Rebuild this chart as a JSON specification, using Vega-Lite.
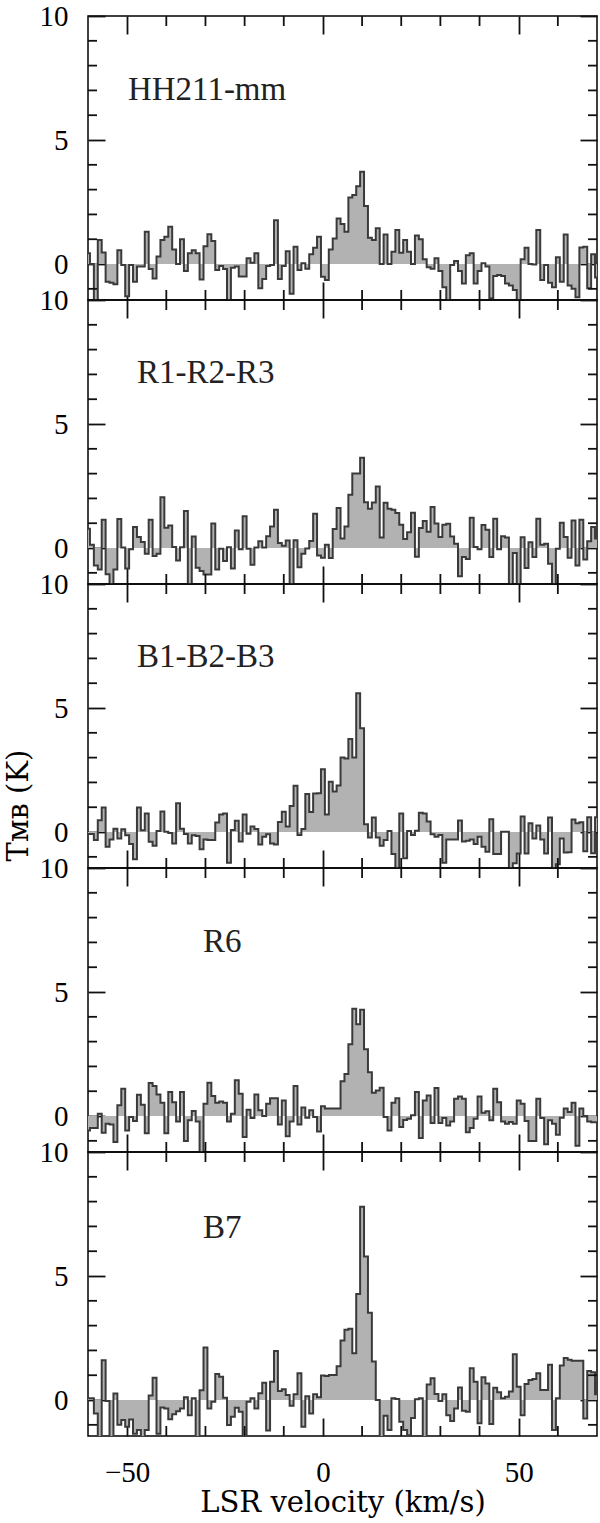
{
  "$schema": "https://vega.github.io/schema/vega-lite/v6.json",
  "background": "white",
  "padding": {"left": 3, "top": 1, "right": 2, "bottom": 7},
  "spacing": 0,
  "bounds": "flush",
  "config": {
    "view": {"stroke": "black", "strokeWidth": 1.5},
    "rule": {"color": "#111111", "strokeWidth": 1.8},
    "axis": {"domain": false, "grid": false, "ticks": true, "tickColor": "#111111", "tickWidth": 1.8, "labelFont": "Liberation Serif", "labelFontSize": 29, "labelColor": "black", "titleFont": "DejaVu Serif", "titleFontWeight": "normal", "titleFontSize": 29, "titleColor": "black", "labelOverlap": false, "labelFlush": false}
  },
  "datasets": {
    "ymaj": [{"t":0},{"t":5},{"t":10}],
    "ymin": [{"t":-1},{"t":1},{"t":2},{"t":3},{"t":4},{"t":6},{"t":7},{"t":8},{"t":9}],
    "xmaj": [{"t":-50},{"t":0},{"t":50}],
    "xmin": [{"t":-40},{"t":-30},{"t":-20},{"t":-10},{"t":10},{"t":20},{"t":30},{"t":40},{"t":60}],
    "hh": [{"v":-60,"T":0.43},{"v":-59,"T":0.0},{"v":-58,"T":-1.6},{"v":-57,"T":0.97},{"v":-56,"T":0.47},{"v":-55,"T":-0.71},{"v":-54,"T":-0.75},{"v":-53,"T":-0.82},{"v":-52,"T":0.56},{"v":-51,"T":-0.04},
      {"v":-50,"T":-1.3},{"v":-49,"T":-0.04},{"v":-48,"T":-0.71},{"v":-47,"T":-0.1},{"v":-46,"T":-0.1},{"v":-45,"T":1.3},{"v":-44,"T":-0.2},{"v":-43,"T":-0.58},{"v":-42,"T":0.3},{"v":-41,"T":0.97},
      {"v":-40,"T":1.1},{"v":-39,"T":1.5},{"v":-38,"T":0.59},{"v":-37,"T":0.0},{"v":-36,"T":1.0},{"v":-35,"T":-0.28},{"v":-34,"T":0.43},{"v":-33,"T":0.56},{"v":-32,"T":0.43},{"v":-31,"T":-0.62},
      {"v":-30,"T":0.72},{"v":-29,"T":1.2},{"v":-28,"T":0.93},{"v":-27,"T":-0.24},{"v":-26,"T":-0.08},{"v":-25,"T":-0.2},{"v":-24,"T":-1.6},{"v":-23,"T":-0.15},{"v":-22,"T":-0.1},{"v":-21,"T":-0.5},
      {"v":-20,"T":-0.5},{"v":-19,"T":0.23},{"v":-18,"T":0.05},{"v":-17,"T":0.43},{"v":-16,"T":-0.98},{"v":-15,"T":-0.6},{"v":-14,"T":-0.08},{"v":-13,"T":-0.04},{"v":-12,"T":1.77},{"v":-11,"T":-0.6},
      {"v":-10,"T":-0.08},{"v":-9,"T":0.52},{"v":-8,"T":-1.2},{"v":-7,"T":0.7},{"v":-6,"T":-0.24},{"v":-5,"T":0.03},{"v":-4,"T":-0.19},{"v":-3,"T":0.39},{"v":-2,"T":0.66},{"v":-1,"T":1.1},
      {"v":0,"T":-0.51},{"v":1,"T":-0.64},{"v":2,"T":0.59},{"v":3,"T":1.03},{"v":4,"T":1.84},{"v":5,"T":1.61},{"v":6,"T":1.3},{"v":7,"T":2.68},{"v":8,"T":2.78},{"v":9,"T":3.14},
      {"v":10,"T":3.72},{"v":11,"T":2.34},{"v":12,"T":1.06},{"v":13,"T":0.97},{"v":14,"T":1.44},{"v":15,"T":0.0},{"v":16,"T":1.19},{"v":17,"T":0.0},{"v":18,"T":0.5},{"v":19,"T":1.37},
      {"v":20,"T":0.46},{"v":21,"T":0.97},{"v":22,"T":0.5},{"v":23,"T":0.0},{"v":24,"T":1.15},{"v":25,"T":1.0},{"v":26,"T":0.19},{"v":27,"T":-0.13},{"v":28,"T":-0.19},{"v":29,"T":0.23},
      {"v":30,"T":-0.28},{"v":31,"T":-0.94},{"v":32,"T":-1.6},{"v":33,"T":-0.04},{"v":34,"T":0.12},{"v":35,"T":-0.28},{"v":36,"T":-0.78},{"v":37,"T":0.35},{"v":38,"T":0.43},{"v":39,"T":-0.78},
      {"v":40,"T":-0.28},{"v":41,"T":0.03},{"v":42,"T":-0.1},{"v":43,"T":-1.38},{"v":44,"T":-0.48},{"v":45,"T":-0.44},{"v":46,"T":-0.48},{"v":47,"T":-0.78},{"v":48,"T":-0.87},{"v":49,"T":-1.05},
      {"v":50,"T":-1.6},{"v":51,"T":0.19},{"v":52,"T":0.66},{"v":53,"T":0.0},{"v":54,"T":-0.02},{"v":55,"T":1.37},{"v":56,"T":-0.64},{"v":57,"T":-0.04},{"v":58,"T":-0.75},{"v":59,"T":-0.94},
      {"v":60,"T":0.27},{"v":61,"T":-0.71},{"v":62,"T":1.19},{"v":63,"T":-0.87},{"v":64,"T":-1.0},{"v":65,"T":-1.34},{"v":66,"T":0.67},{"v":67,"T":0.7},{"v":68,"T":-0.98},{"v":69,"T":0.39},{"v":70,"T":-0.54}],
    "r": [{"v":-60,"T":0.78},{"v":-59,"T":0.13},{"v":-58,"T":-0.7},{"v":-57,"T":-0.87},{"v":-56,"T":1.14},{"v":-55,"T":-1.06},{"v":-54,"T":-1.6},{"v":-53,"T":-0.87},{"v":-52,"T":1.17},{"v":-51,"T":0.02},
      {"v":-50,"T":-0.83},{"v":-49,"T":-0.05},{"v":-48,"T":0.85},{"v":-47,"T":0.44},{"v":-46,"T":0.24},{"v":-45,"T":-0.23},{"v":-44,"T":1.14},{"v":-43,"T":-0.32},{"v":-42,"T":-0.23},{"v":-41,"T":2.05},
      {"v":-40,"T":0.82},{"v":-39,"T":0.91},{"v":-38,"T":0.04},{"v":-37,"T":-0.5},{"v":-36,"T":0.03},{"v":-35,"T":1.49},{"v":-34,"T":-1.6},{"v":-33,"T":0.47},{"v":-32,"T":-0.79},{"v":-31,"T":-0.93},
      {"v":-30,"T":-1.07},{"v":-29,"T":-1.07},{"v":-28,"T":0.99},{"v":-27,"T":-0.87},{"v":-26,"T":-0.03},{"v":-25,"T":-0.52},{"v":-24,"T":0.03},{"v":-23,"T":-0.83},{"v":-22,"T":0.71},{"v":-21,"T":-0.05},
      {"v":-20,"T":1.28},{"v":-19,"T":-0.03},{"v":-18,"T":-0.67},{"v":-17,"T":0.02},{"v":-16,"T":0.27},{"v":-15,"T":0.02},{"v":-14,"T":0.48},{"v":-13,"T":0.87},{"v":-12,"T":1.54},{"v":-11,"T":0.2},
      {"v":-10,"T":0.09},{"v":-9,"T":0.3},{"v":-8,"T":-1.6},{"v":-7,"T":0.31},{"v":-6,"T":-0.77},{"v":-5,"T":-0.23},{"v":-4,"T":-0.02},{"v":-3,"T":0.28},{"v":-2,"T":1.38},{"v":-1,"T":-0.3},
      {"v":0,"T":-0.39},{"v":1,"T":0.13},{"v":2,"T":-0.4},{"v":3,"T":0.77},{"v":4,"T":1.61},{"v":5,"T":0.38},{"v":6,"T":0.87},{"v":7,"T":2.15},{"v":8,"T":3.0},{"v":9,"T":3.0},
      {"v":10,"T":3.64},{"v":11,"T":1.85},{"v":12,"T":1.58},{"v":13,"T":1.84},{"v":14,"T":2.48},{"v":15,"T":0.42},{"v":16,"T":1.83},{"v":17,"T":1.58},{"v":18,"T":1.54},{"v":19,"T":1.41},
      {"v":20,"T":0.94},{"v":21,"T":0.36},{"v":22,"T":0.64},{"v":23,"T":1.42},{"v":24,"T":-0.35},{"v":25,"T":0.81},{"v":26,"T":1.09},{"v":27,"T":0.66},{"v":28,"T":1.65},{"v":29,"T":0.99},
      {"v":30,"T":0.44},{"v":31,"T":0.94},{"v":32,"T":0.98},{"v":33,"T":0.47},{"v":34,"T":0.17},{"v":35,"T":-1.14},{"v":36,"T":-0.36},{"v":37,"T":-0.44},{"v":38,"T":1.22},{"v":39,"T":0.04},
      {"v":40,"T":-0.05},{"v":41,"T":0.93},{"v":42,"T":0.74},{"v":43,"T":-0.36},{"v":44,"T":1.18},{"v":45,"T":-0.05},{"v":46,"T":0.48},{"v":47,"T":0.42},{"v":48,"T":-1.6},{"v":49,"T":-0.2},
      {"v":50,"T":-1.6},{"v":51,"T":0.43},{"v":52,"T":-0.8},{"v":53,"T":0.23},{"v":54,"T":-0.36},{"v":55,"T":1.18},{"v":56,"T":0.13},{"v":57,"T":0.17},{"v":58,"T":-0.63},{"v":59,"T":-1.6},
      {"v":60,"T":-0.03},{"v":61,"T":1.02},{"v":62,"T":0.44},{"v":63,"T":-0.39},{"v":64,"T":1.11},{"v":65,"T":-0.7},{"v":66,"T":1.14},{"v":67,"T":-0.46},{"v":68,"T":0.27},{"v":69,"T":0.85},{"v":70,"T":0.38}],
    "b": [{"v":-60,"T":-0.08},{"v":-59,"T":-0.08},{"v":-58,"T":-0.32},{"v":-57,"T":0.48},{"v":-56,"T":0.99},{"v":-55,"T":-0.59},{"v":-54,"T":-0.3},{"v":-53,"T":0.13},{"v":-52,"T":-0.26},{"v":-51,"T":0.11},
      {"v":-50,"T":-0.13},{"v":-49,"T":-0.48},{"v":-48,"T":-1.1},{"v":-47,"T":0.99},{"v":-46,"T":0.07},{"v":-45,"T":0.75},{"v":-44,"T":-0.39},{"v":-43,"T":-0.55},{"v":-42,"T":0.04},{"v":-41,"T":0.83},
      {"v":-40,"T":0.01},{"v":-39,"T":-0.04},{"v":-38,"T":-0.46},{"v":-37,"T":1.16},{"v":-36,"T":0.13},{"v":-35,"T":-0.08},{"v":-34,"T":-0.46},{"v":-33,"T":-0.13},{"v":-32,"T":-0.16},{"v":-31,"T":-0.69},
      {"v":-30,"T":-0.3},{"v":-29,"T":-0.32},{"v":-28,"T":-0.32},{"v":-27,"T":0.38},{"v":-26,"T":0.71},{"v":-25,"T":0.75},{"v":-24,"T":-1.24},{"v":-23,"T":0.08},{"v":-22,"T":0.46},{"v":-21,"T":-0.38},
      {"v":-20,"T":0.71},{"v":-19,"T":-0.07},{"v":-18,"T":0.22},{"v":-17,"T":0.12},{"v":-16,"T":-0.5},{"v":-15,"T":-0.19},{"v":-14,"T":-0.09},{"v":-13,"T":-0.46},{"v":-12,"T":-0.5},{"v":-11,"T":0.4},
      {"v":-10,"T":0.82},{"v":-9,"T":0.22},{"v":-8,"T":1.05},{"v":-7,"T":1.87},{"v":-6,"T":-0.12},{"v":-5,"T":0.12},{"v":-4,"T":1.53},{"v":-3,"T":0.81},{"v":-2,"T":1.55},{"v":-1,"T":1.56},
      {"v":0,"T":2.53},{"v":1,"T":0.71},{"v":2,"T":2.03},{"v":3,"T":1.63},{"v":4,"T":1.88},{"v":5,"T":3.0},{"v":6,"T":2.96},{"v":7,"T":3.75},{"v":8,"T":3.01},{"v":9,"T":5.6},
      {"v":10,"T":4.18},{"v":11,"T":0.31},{"v":12,"T":-0.22},{"v":13,"T":0.59},{"v":14,"T":-0.22},{"v":15,"T":-0.55},{"v":16,"T":-0.32},{"v":17,"T":0.04},{"v":18,"T":-0.89},{"v":19,"T":-1.6},
      {"v":20,"T":0.75},{"v":21,"T":-1.06},{"v":22,"T":0.04},{"v":23,"T":-0.12},{"v":24,"T":0.05},{"v":25,"T":0.78},{"v":26,"T":0.75},{"v":27,"T":0.42},{"v":28,"T":-0.09},{"v":29,"T":-0.19},
      {"v":30,"T":-0.12},{"v":31,"T":-1.24},{"v":32,"T":-0.3},{"v":33,"T":-0.3},{"v":34,"T":-0.3},{"v":35,"T":0.47},{"v":36,"T":-0.38},{"v":37,"T":-0.35},{"v":38,"T":-0.3},{"v":39,"T":-0.48},
      {"v":40,"T":-0.19},{"v":41,"T":-0.59},{"v":42,"T":-0.79},{"v":43,"T":0.52},{"v":44,"T":-0.89},{"v":45,"T":-0.89},{"v":46,"T":0.01},{"v":47,"T":0.01},{"v":48,"T":-1.6},{"v":49,"T":-1.26},
      {"v":50,"T":-0.87},{"v":51,"T":0.63},{"v":52,"T":-0.87},{"v":53,"T":0.35},{"v":54,"T":-0.26},{"v":55,"T":0.26},{"v":56,"T":-0.3},{"v":57,"T":-0.87},{"v":58,"T":0.59},{"v":59,"T":-1.6},
      {"v":60,"T":-1.3},{"v":61,"T":-0.26},{"v":62,"T":-0.83},{"v":63,"T":-0.81},{"v":64,"T":0.51},{"v":65,"T":0.35},{"v":66,"T":0.39},{"v":67,"T":-0.77},{"v":68,"T":0.6},{"v":69,"T":-0.86},{"v":70,"T":0.6}],
    "r6": [{"v":-60,"T":-0.58},{"v":-59,"T":-0.48},{"v":-58,"T":-0.48},{"v":-57,"T":0.09},{"v":-56,"T":-0.67},{"v":-55,"T":-0.31},{"v":-54,"T":-0.34},{"v":-53,"T":-1.05},{"v":-52,"T":0.43},{"v":-51,"T":1.1},
      {"v":-50,"T":-0.58},{"v":-49,"T":-0.04},{"v":-48,"T":-0.2},{"v":-47,"T":0.86},{"v":-46,"T":0.46},{"v":-45,"T":-0.69},{"v":-44,"T":1.33},{"v":-43,"T":1.21},{"v":-42,"T":0.87},{"v":-41,"T":0.54},
      {"v":-40,"T":-0.69},{"v":-39,"T":0.97},{"v":-38,"T":0.56},{"v":-37,"T":-0.22},{"v":-36,"T":0.97},{"v":-35,"T":-1.01},{"v":-34,"T":-0.17},{"v":-33,"T":0.2},{"v":-32,"T":-0.22},{"v":-31,"T":-1.6},
      {"v":-30,"T":0.5},{"v":-29,"T":1.34},{"v":-28,"T":0.81},{"v":-27,"T":0.54},{"v":-26,"T":0.59},{"v":-25,"T":0.54},{"v":-24,"T":-0.22},{"v":-23,"T":0.09},{"v":-22,"T":1.44},{"v":-21,"T":0.9},
      {"v":-20,"T":-0.85},{"v":-19,"T":0.25},{"v":-18,"T":-0.08},{"v":-17,"T":0.87},{"v":-16,"T":0.23},{"v":-15,"T":0.0},{"v":-14,"T":0.5},{"v":-13,"T":0.72},{"v":-12,"T":0.72},{"v":-11,"T":-0.34},
      {"v":-10,"T":0.63},{"v":-9,"T":-0.81},{"v":-8,"T":-0.22},{"v":-7,"T":1.21},{"v":-6,"T":-0.34},{"v":-5,"T":0.34},{"v":-4,"T":-0.07},{"v":-3,"T":0.23},{"v":-2,"T":-0.04},{"v":-1,"T":-0.62},
      {"v":0,"T":0.39},{"v":1,"T":0.3},{"v":2,"T":0.3},{"v":3,"T":0.3},{"v":4,"T":0.3},{"v":5,"T":1.4},{"v":6,"T":1.69},{"v":7,"T":2.89},{"v":8,"T":4.33},{"v":9,"T":3.7},
      {"v":10,"T":4.29},{"v":11,"T":2.69},{"v":12,"T":1.77},{"v":13,"T":0.94},{"v":14,"T":1.03},{"v":15,"T":1.14},{"v":16,"T":-0.04},{"v":17,"T":-0.58},{"v":18,"T":0.54},{"v":19,"T":0.72},
      {"v":20,"T":-0.44},{"v":21,"T":-0.16},{"v":22,"T":-0.11},{"v":23,"T":0.03},{"v":24,"T":0.97},{"v":25,"T":-0.89},{"v":26,"T":0.63},{"v":27,"T":0.83},{"v":28,"T":-0.28},{"v":29,"T":1.13},
      {"v":30,"T":-0.28},{"v":31,"T":-0.08},{"v":32,"T":-0.38},{"v":33,"T":-0.22},{"v":34,"T":0.7},{"v":35,"T":0.79},{"v":36,"T":0.7},{"v":37,"T":-0.65},{"v":38,"T":-0.48},{"v":39,"T":-0.11},
      {"v":40,"T":0.79},{"v":41,"T":0.13},{"v":42,"T":0.19},{"v":43,"T":-0.17},{"v":44,"T":1.1},{"v":45,"T":0.56},{"v":46,"T":-0.22},{"v":47,"T":-0.31},{"v":48,"T":-0.24},{"v":49,"T":-0.31},
      {"v":50,"T":0.63},{"v":51,"T":0.5},{"v":52,"T":-0.2},{"v":53,"T":-1.01},{"v":54,"T":-1.01},{"v":55,"T":0.7},{"v":56,"T":-0.08},{"v":57,"T":-1.14},{"v":58,"T":-0.17},{"v":59,"T":-0.31},
      {"v":60,"T":-0.75},{"v":61,"T":-0.07},{"v":62,"T":0.3},{"v":63,"T":0.16},{"v":64,"T":0.54},{"v":65,"T":-1.2},{"v":66,"T":0.3},{"v":67,"T":0.0},{"v":68,"T":-0.22},{"v":69,"T":-0.25},{"v":70,"T":-0.25}],
    "b7": [{"v":-60,"T":0.07},{"v":-59,"T":0.07},{"v":-58,"T":-0.54},{"v":-57,"T":-1.6},{"v":-56,"T":1.6},{"v":-55,"T":-0.04},{"v":-54,"T":-1.6},{"v":-53,"T":0.26},{"v":-52,"T":-1.0},{"v":-51,"T":-0.8},
      {"v":-50,"T":-1.08},{"v":-49,"T":-0.78},{"v":-48,"T":-1.36},{"v":-47,"T":-1.21},{"v":-46,"T":-1.6},{"v":-45,"T":-1.21},{"v":-44,"T":0.18},{"v":-43,"T":0.9},{"v":-42,"T":-1.36},{"v":-41,"T":-0.3},
      {"v":-40,"T":-0.34},{"v":-39,"T":-0.77},{"v":-38,"T":-0.57},{"v":-37,"T":-0.45},{"v":-36,"T":-0.34},{"v":-35,"T":0.11},{"v":-34,"T":-0.61},{"v":-33,"T":0.07},{"v":-32,"T":-1.6},{"v":-31,"T":0.39},
      {"v":-30,"T":2.12},{"v":-29,"T":-0.34},{"v":-28,"T":-0.07},{"v":-27,"T":1.05},{"v":-26,"T":0.94},{"v":-25,"T":0.09},{"v":-24,"T":-1.01},{"v":-23,"T":-0.67},{"v":-22,"T":-0.31},{"v":-21,"T":-0.47},
      {"v":-20,"T":-1.6},{"v":-19,"T":-0.07},{"v":-18,"T":0.07},{"v":-17,"T":-0.34},{"v":-16,"T":0.27},{"v":-15,"T":0.7},{"v":-14,"T":-1.23},{"v":-13,"T":0.74},{"v":-12,"T":1.98},{"v":-11,"T":0.36},
      {"v":-10,"T":0.43},{"v":-9,"T":0.2},{"v":-8,"T":-0.23},{"v":-7,"T":0.23},{"v":-6,"T":1.08},{"v":-5,"T":-1.08},{"v":-4,"T":0.15},{"v":-3,"T":-0.54},{"v":-2,"T":0.23},{"v":-1,"T":0.11},
      {"v":0,"T":0.99},{"v":1,"T":0.97},{"v":2,"T":1.01},{"v":3,"T":1.01},{"v":4,"T":1.36},{"v":5,"T":2.4},{"v":6,"T":2.83},{"v":7,"T":2.87},{"v":8,"T":1.89},{"v":9,"T":4.28},
      {"v":10,"T":7.79},{"v":11,"T":5.79},{"v":12,"T":3.52},{"v":13,"T":1.55},{"v":14,"T":0.0},{"v":15,"T":-1.6},{"v":16,"T":-0.63},{"v":17,"T":-1.21},{"v":18,"T":0.07},{"v":19,"T":0.04},
      {"v":20,"T":-0.88},{"v":21,"T":-1.21},{"v":22,"T":-1.42},{"v":23,"T":-0.72},{"v":24,"T":0.03},{"v":25,"T":0.07},{"v":26,"T":-1.6},{"v":27,"T":0.63},{"v":28,"T":0.88},{"v":29,"T":0.24},
      {"v":30,"T":-0.04},{"v":31,"T":0.23},{"v":32,"T":-0.61},{"v":33,"T":-0.85},{"v":34,"T":-0.34},{"v":35,"T":0.51},{"v":36,"T":-0.43},{"v":37,"T":-0.47},{"v":38,"T":1.28},{"v":39,"T":0.74},
      {"v":40,"T":-0.94},{"v":41,"T":0.92},{"v":42,"T":0.67},{"v":43,"T":-0.97},{"v":44,"T":0.5},{"v":45,"T":0.31},{"v":46,"T":0.07},{"v":47,"T":0.13},{"v":48,"T":0.34},{"v":49,"T":1.85},
      {"v":50,"T":0.54},{"v":51,"T":-0.61},{"v":52,"T":0.65},{"v":53,"T":0.81},{"v":54,"T":0.85},{"v":55,"T":1.08},{"v":56,"T":0.4},{"v":57,"T":0.4},{"v":58,"T":1.42},{"v":59,"T":-1.21},
      {"v":60,"T":0.07},{"v":61,"T":1.39},{"v":62,"T":1.69},{"v":63,"T":1.62},{"v":64,"T":1.58},{"v":65,"T":1.58},{"v":66,"T":1.58},{"v":67,"T":-0.74},{"v":68,"T":1.17},{"v":69,"T":1.12},{"v":70,"T":0.23}]
  },
  "vconcat": [
    {
      "width": 509, "height": 284,
      "layer": [
        {"data": {"name": "hh"}, "mark": {"type": "area", "interpolate": "step", "color": "#b2b2b2", "clip": true},
         "encoding": {
           "x": {"field": "v", "type": "quantitative", "scale": {"domain": [-60, 70], "nice": false, "zero": false}, "axis": {"orient": "bottom", "values": [-50, 0, 50], "offset": -18, "tickSize": 18, "labels": false, "title": null}},
           "y": {"field": "T", "type": "quantitative", "scale": {"domain": [-1.45, 10], "nice": false, "zero": false}, "axis": {"orient": "left", "values": [0, 5, 10], "offset": -17, "tickSize": 17, "labelPadding": 20, "title": null}},
           "y2": {"datum": 0}}},
        {"data": {"name": "hh"}, "mark": {"type": "line", "interpolate": "step", "color": "#3a3a3a", "strokeWidth": 2, "clip": true},
         "encoding": {
           "x": {"field": "v", "type": "quantitative", "axis": {"orient": "top", "values": [-50, 0, 50], "offset": -18, "tickSize": 18, "labels": false, "title": null}},
           "y": {"field": "T", "type": "quantitative", "axis": {"orient": "right", "values": [0, 5, 10], "offset": -17, "tickSize": 17, "labels": false, "title": null}}}},
        {"data": {"name": "ymin"}, "mark": "rule", "encoding": {"x": {"datum": -60, "axis": null}, "x2": {"datum": -57.7}, "y": {"field": "t", "type": "quantitative", "axis": null}}},
        {"data": {"name": "ymin"}, "mark": "rule", "encoding": {"x": {"datum": 70, "axis": null}, "x2": {"datum": 67.7}, "y": {"field": "t", "type": "quantitative", "axis": null}}},
        {"data": {"name": "xmin"}, "mark": "rule", "encoding": {"x": {"field": "t", "type": "quantitative", "axis": null}, "y": {"datum": -1.45, "axis": null}, "y2": {"datum": -1.047}}},
        {"data": {"name": "xmin"}, "mark": "rule", "encoding": {"x": {"field": "t", "type": "quantitative", "axis": null}, "y": {"datum": 10, "axis": null}, "y2": {"datum": 9.597}}},
        {"data": {"values": [{"label": "HH211-mm", "v": -49.8, "T": 7.0}]},
         "mark": {"type": "text", "align": "left", "baseline": "middle", "font": "Liberation Serif", "fontSize": 33, "color": "#222"},
         "encoding": {"x": {"field": "v", "type": "quantitative", "axis": null}, "y": {"field": "T", "type": "quantitative", "axis": null}, "text": {"field": "label"}}}
      ],
      "resolve": {"axis": {"x": "independent", "y": "independent"}}
    },
    {
      "width": 509, "height": 284,
      "layer": [
        {"data": {"name": "r"}, "mark": {"type": "area", "interpolate": "step", "color": "#b2b2b2", "clip": true},
         "encoding": {
           "x": {"field": "v", "type": "quantitative", "scale": {"domain": [-60, 70], "nice": false, "zero": false}, "axis": {"orient": "bottom", "values": [-50, 0, 50], "offset": -18, "tickSize": 18, "labels": false, "title": null}},
           "y": {"field": "T", "type": "quantitative", "scale": {"domain": [-1.45, 10], "nice": false, "zero": false}, "axis": {"orient": "left", "values": [0, 5, 10], "offset": -17, "tickSize": 17, "labelPadding": 20, "title": null}},
           "y2": {"datum": 0}}},
        {"data": {"name": "r"}, "mark": {"type": "line", "interpolate": "step", "color": "#3a3a3a", "strokeWidth": 2, "clip": true},
         "encoding": {
           "x": {"field": "v", "type": "quantitative", "axis": {"orient": "top", "values": [-50, 0, 50], "offset": -18, "tickSize": 18, "labels": false, "title": null}},
           "y": {"field": "T", "type": "quantitative", "axis": {"orient": "right", "values": [0, 5, 10], "offset": -17, "tickSize": 17, "labels": false, "title": null}}}},
        {"data": {"name": "ymin"}, "mark": "rule", "encoding": {"x": {"datum": -60, "axis": null}, "x2": {"datum": -57.7}, "y": {"field": "t", "type": "quantitative", "axis": null}}},
        {"data": {"name": "ymin"}, "mark": "rule", "encoding": {"x": {"datum": 70, "axis": null}, "x2": {"datum": 67.7}, "y": {"field": "t", "type": "quantitative", "axis": null}}},
        {"data": {"name": "xmin"}, "mark": "rule", "encoding": {"x": {"field": "t", "type": "quantitative", "axis": null}, "y": {"datum": -1.45, "axis": null}, "y2": {"datum": -1.047}}},
        {"data": {"name": "xmin"}, "mark": "rule", "encoding": {"x": {"field": "t", "type": "quantitative", "axis": null}, "y": {"datum": 10, "axis": null}, "y2": {"datum": 9.597}}},
        {"data": {"values": [{"label": "R1-R2-R3", "v": -47.5, "T": 7.05}]},
         "mark": {"type": "text", "align": "left", "baseline": "middle", "font": "Liberation Serif", "fontSize": 33, "color": "#222"},
         "encoding": {"x": {"field": "v", "type": "quantitative", "axis": null}, "y": {"field": "T", "type": "quantitative", "axis": null}, "text": {"field": "label"}}}
      ],
      "resolve": {"axis": {"x": "independent", "y": "independent"}}
    },
    {
      "width": 509, "height": 284,
      "layer": [
        {"data": {"name": "b"}, "mark": {"type": "area", "interpolate": "step", "color": "#b2b2b2", "clip": true},
         "encoding": {
           "x": {"field": "v", "type": "quantitative", "scale": {"domain": [-60, 70], "nice": false, "zero": false}, "axis": {"orient": "bottom", "values": [-50, 0, 50], "offset": -18, "tickSize": 18, "labels": false, "title": null}},
           "y": {"field": "T", "type": "quantitative", "scale": {"domain": [-1.45, 10], "nice": false, "zero": false}, "axis": {"orient": "left", "values": [0, 5, 10], "offset": -17, "tickSize": 17, "labelPadding": 20, "title": "Tᴍʙ (K)", "titleX": -87, "titleY": 221, "titleAngle": 270, "titleAlign": "center", "titleBaseline": "middle"}},
           "y2": {"datum": 0}}},
        {"data": {"name": "b"}, "mark": {"type": "line", "interpolate": "step", "color": "#3a3a3a", "strokeWidth": 2, "clip": true},
         "encoding": {
           "x": {"field": "v", "type": "quantitative", "axis": {"orient": "top", "values": [-50, 0, 50], "offset": -18, "tickSize": 18, "labels": false, "title": null}},
           "y": {"field": "T", "type": "quantitative", "axis": {"orient": "right", "values": [0, 5, 10], "offset": -17, "tickSize": 17, "labels": false, "title": null}}}},
        {"data": {"name": "ymin"}, "mark": "rule", "encoding": {"x": {"datum": -60, "axis": null}, "x2": {"datum": -57.7}, "y": {"field": "t", "type": "quantitative", "axis": null}}},
        {"data": {"name": "ymin"}, "mark": "rule", "encoding": {"x": {"datum": 70, "axis": null}, "x2": {"datum": 67.7}, "y": {"field": "t", "type": "quantitative", "axis": null}}},
        {"data": {"name": "xmin"}, "mark": "rule", "encoding": {"x": {"field": "t", "type": "quantitative", "axis": null}, "y": {"datum": -1.45, "axis": null}, "y2": {"datum": -1.047}}},
        {"data": {"name": "xmin"}, "mark": "rule", "encoding": {"x": {"field": "t", "type": "quantitative", "axis": null}, "y": {"datum": 10, "axis": null}, "y2": {"datum": 9.597}}},
        {"data": {"values": [{"label": "B1-B2-B3", "v": -47.5, "T": 7.05}]},
         "mark": {"type": "text", "align": "left", "baseline": "middle", "font": "Liberation Serif", "fontSize": 33, "color": "#222"},
         "encoding": {"x": {"field": "v", "type": "quantitative", "axis": null}, "y": {"field": "T", "type": "quantitative", "axis": null}, "text": {"field": "label"}}}
      ],
      "resolve": {"axis": {"x": "independent", "y": "independent"}}
    },
    {
      "width": 509, "height": 284,
      "layer": [
        {"data": {"name": "r6"}, "mark": {"type": "area", "interpolate": "step", "color": "#b2b2b2", "clip": true},
         "encoding": {
           "x": {"field": "v", "type": "quantitative", "scale": {"domain": [-60, 70], "nice": false, "zero": false}, "axis": {"orient": "bottom", "values": [-50, 0, 50], "offset": -18, "tickSize": 18, "labels": false, "title": null}},
           "y": {"field": "T", "type": "quantitative", "scale": {"domain": [-1.45, 10], "nice": false, "zero": false}, "axis": {"orient": "left", "values": [0, 5, 10], "offset": -17, "tickSize": 17, "labelPadding": 20, "title": null}},
           "y2": {"datum": 0}}},
        {"data": {"name": "r6"}, "mark": {"type": "line", "interpolate": "step", "color": "#3a3a3a", "strokeWidth": 2, "clip": true},
         "encoding": {
           "x": {"field": "v", "type": "quantitative", "axis": {"orient": "top", "values": [-50, 0, 50], "offset": -18, "tickSize": 18, "labels": false, "title": null}},
           "y": {"field": "T", "type": "quantitative", "axis": {"orient": "right", "values": [0, 5, 10], "offset": -17, "tickSize": 17, "labels": false, "title": null}}}},
        {"data": {"name": "ymin"}, "mark": "rule", "encoding": {"x": {"datum": -60, "axis": null}, "x2": {"datum": -57.7}, "y": {"field": "t", "type": "quantitative", "axis": null}}},
        {"data": {"name": "ymin"}, "mark": "rule", "encoding": {"x": {"datum": 70, "axis": null}, "x2": {"datum": 67.7}, "y": {"field": "t", "type": "quantitative", "axis": null}}},
        {"data": {"name": "xmin"}, "mark": "rule", "encoding": {"x": {"field": "t", "type": "quantitative", "axis": null}, "y": {"datum": -1.45, "axis": null}, "y2": {"datum": -1.047}}},
        {"data": {"name": "xmin"}, "mark": "rule", "encoding": {"x": {"field": "t", "type": "quantitative", "axis": null}, "y": {"datum": 10, "axis": null}, "y2": {"datum": 9.597}}},
        {"data": {"values": [{"label": "R6", "v": -30.6, "T": 7.0}]},
         "mark": {"type": "text", "align": "left", "baseline": "middle", "font": "Liberation Serif", "fontSize": 33, "color": "#222"},
         "encoding": {"x": {"field": "v", "type": "quantitative", "axis": null}, "y": {"field": "T", "type": "quantitative", "axis": null}, "text": {"field": "label"}}}
      ],
      "resolve": {"axis": {"x": "independent", "y": "independent"}}
    },
    {
      "width": 509, "height": 284,
      "layer": [
        {"data": {"name": "b7"}, "mark": {"type": "area", "interpolate": "step", "color": "#b2b2b2", "clip": true},
         "encoding": {
           "x": {"field": "v", "type": "quantitative", "scale": {"domain": [-60, 70], "nice": false, "zero": false}, "axis": {"orient": "bottom", "values": [-50, 0, 50], "offset": -18, "tickSize": 18, "labels": true, "labelPadding": 22, "title": "LSR velocity (km/s)", "titleY": 93, "titleBaseline": "alphabetic"}},
           "y": {"field": "T", "type": "quantitative", "scale": {"domain": [-1.45, 10], "nice": false, "zero": false}, "axis": {"orient": "left", "values": [0, 5, 10], "offset": -17, "tickSize": 17, "labelPadding": 20, "title": null}},
           "y2": {"datum": 0}}},
        {"data": {"name": "b7"}, "mark": {"type": "line", "interpolate": "step", "color": "#3a3a3a", "strokeWidth": 2, "clip": true},
         "encoding": {
           "x": {"field": "v", "type": "quantitative", "axis": {"orient": "top", "values": [-50, 0, 50], "offset": -18, "tickSize": 18, "labels": false, "title": null}},
           "y": {"field": "T", "type": "quantitative", "axis": {"orient": "right", "values": [0, 5, 10], "offset": -17, "tickSize": 17, "labels": false, "title": null}}}},
        {"data": {"name": "ymin"}, "mark": "rule", "encoding": {"x": {"datum": -60, "axis": null}, "x2": {"datum": -57.7}, "y": {"field": "t", "type": "quantitative", "axis": null}}},
        {"data": {"name": "ymin"}, "mark": "rule", "encoding": {"x": {"datum": 70, "axis": null}, "x2": {"datum": 67.7}, "y": {"field": "t", "type": "quantitative", "axis": null}}},
        {"data": {"name": "xmin"}, "mark": "rule", "encoding": {"x": {"field": "t", "type": "quantitative", "axis": null}, "y": {"datum": -1.45, "axis": null}, "y2": {"datum": -1.047}}},
        {"data": {"name": "xmin"}, "mark": "rule", "encoding": {"x": {"field": "t", "type": "quantitative", "axis": null}, "y": {"datum": 10, "axis": null}, "y2": {"datum": 9.597}}},
        {"data": {"values": [{"label": "B7", "v": -30.6, "T": 6.95}]},
         "mark": {"type": "text", "align": "left", "baseline": "middle", "font": "Liberation Serif", "fontSize": 33, "color": "#222"},
         "encoding": {"x": {"field": "v", "type": "quantitative", "axis": null}, "y": {"field": "T", "type": "quantitative", "axis": null}, "text": {"field": "label"}}}
      ],
      "resolve": {"axis": {"x": "independent", "y": "independent"}}
    }
  ]
}
